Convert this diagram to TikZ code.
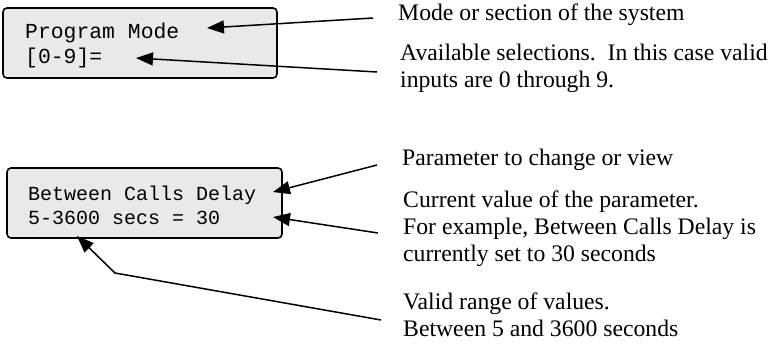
\documentclass[tikz,border=0pt]{standalone}
\usepackage{fontspec}
\setmainfont{Liberation Serif}
\setmonofont{Liberation Mono}
\usetikzlibrary{arrows.meta}
\definecolor{lcdgray}{HTML}{E9E9E9}

\begin{document}
\begin{tikzpicture}[x=1pt,y=-1pt]
\tikzset{lcd/.style={draw, line width=1.6pt, fill=lcdgray, rounded corners=4pt}}
\tikzset{lcdtext/.style={font=\fontsize{20}{24}\selectfont\ttfamily, align=left, inner sep=0pt, anchor=west}}
\tikzset{note/.style={font=\fontsize{23.7}{27}\selectfont, align=left, inner sep=0pt, anchor=west}}
\tikzset{pointer/.style={draw, line width=1.5pt, -{Triangle[length=17pt,width=13pt]}}}
\useasboundingbox (0,0) rectangle (777,346);

% the two displays
\node[lcd, minimum width=274pt, minimum height=70pt] (modebox) at (140,43) {};
\node[lcdtext, font=\fontsize{21.4}{25}\selectfont\ttfamily] (modetext) at (25,45.5) {Program Mode\\{[0-9]=}};
\node[lcd, minimum width=275pt, minimum height=70pt] (parambox) at (144.5,203) {};
\node[lcdtext] (paramtext) at (28,205) {Between Calls Delay\\5-3600 secs = 30};

% explanations
\node[note] (modenote) at (398,14.5) {Mode or section of the system};
\node[note] (selnote) at (400,68) {Available selections.\ \ In this case valid\\inputs are 0 through 9.};
\node[note] (parnote) at (402,159.5) {Parameter to change or view};
\node[note] (curnote) at (403,228.5) {Current value of the parameter.\\For example, Between Calls Delay is\\currently set to 30 seconds};
\node[note] (rangenote) at (403,315) {Valid range of values.\\Between 5 and 3600 seconds};

% pointer ends
\coordinate (modetip) at (207,28);
\coordinate (seltip) at (136,58);
\coordinate (partip) at (273,192);
\coordinate (curtip) at (273,217);
\coordinate (rangetip) at (77,236);
\coordinate (rangebend) at (115,273);
\coordinate (modetail) at (373,18);
\coordinate (seltail) at (377,72);
\coordinate (partail) at (377,165);
\coordinate (curtail) at (378,233);
\coordinate (rangetail) at (381,320);

\draw[pointer] (modetail) -- (modetip);
\draw[pointer] (seltail) -- (seltip);
\draw[pointer] (partail) -- (partip);
\draw[pointer] (curtail) -- (curtip);
\draw[pointer] (rangetail) -- (rangebend) -- (rangetip);
\end{tikzpicture}
\end{document}
